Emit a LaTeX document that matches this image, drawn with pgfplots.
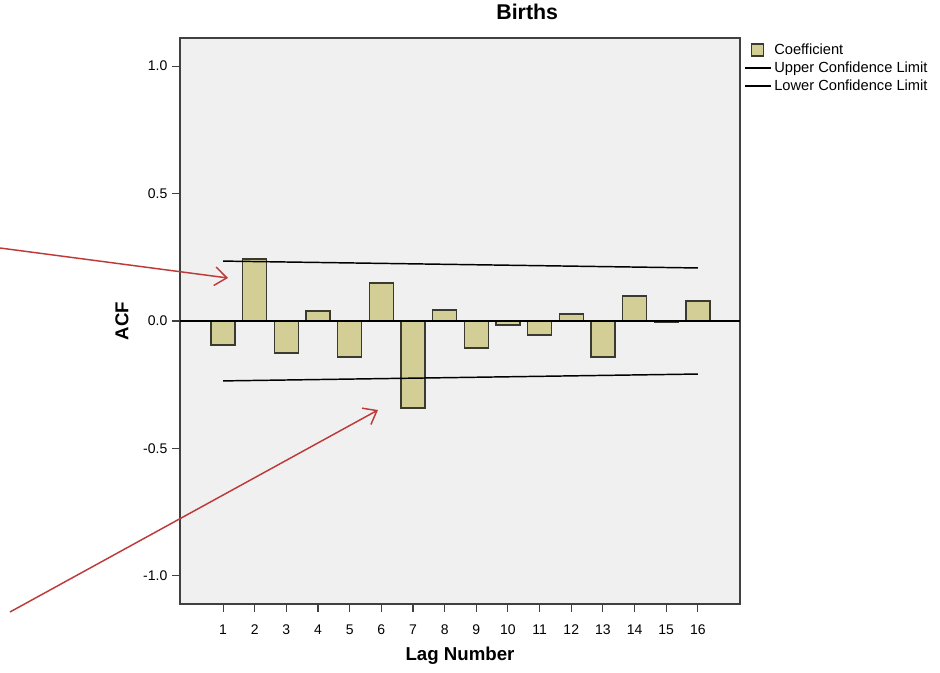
\documentclass[border=0pt]{standalone}
\usepackage{fontspec}
\setmainfont{Liberation Sans}
\usepackage{pgfplots}
\pgfplotsset{compat=1.18}
\usetikzlibrary{arrows.meta}
\definecolor{panel}{HTML}{F0F0F0}
\definecolor{barfill}{HTML}{D3CE96}
\definecolor{bardraw}{HTML}{3A3A30}
\definecolor{arrowred}{HTML}{BE3A3A}

% ACF coefficients by lag
\pgfplotstableread{
lag acf
1  -0.094
2   0.243
3  -0.125
4   0.039
5  -0.141
6   0.149
7  -0.341
8   0.043
9  -0.106
10 -0.016
11 -0.055
12  0.027
13 -0.141
14  0.098
15 -0.004
16  0.078
}\acftable

\begin{document}
\begin{tikzpicture}
\useasboundingbox (-135pt,-51pt) rectangle (570pt,453pt);
\begin{axis}[
  at={(0,0)}, anchor=south west,
  scale only axis,
  width=420pt, height=424.5pt,
  xmin=-0.36, xmax=17.33,
  ymin=-1.11, ymax=1.11,
  xtick={1,...,16},
  ytick={-1,-0.5,0,0.5,1},
  xtick pos=lower, ytick pos=left,
  tick align=outside,
  major tick length=6pt,
  tick style={black!75, line width=0.8pt},
  axis line style={black!75, line width=1pt},
  axis background/.style={fill=panel},
  tick label style={font=\fontsize{10.5}{12}\selectfont},
  yticklabel style={/pgf/number format/.cd, fixed, fixed zerofill, precision=1, assume math mode=true},
  xticklabel style={/pgf/number format/assume math mode=true, yshift=-6pt},
  title={Births},
  title style={at={(0.62,1)}, anchor=center, yshift=13.5pt, font=\fontsize{16}{18}\selectfont\bfseries},
  xlabel={Lag Number},
  xlabel style={at={(0.5,0)}, anchor=center, yshift=-39pt, font=\fontsize{14}{16}\selectfont\bfseries},
  ylabel={ACF},
  ylabel style={at={(0,0.5)}, anchor=center, yshift=43.5pt, font=\fontsize{14}{16}\selectfont\bfseries},
  legend style={at={(1,1)}, anchor=north west, xshift=1pt, draw=none, fill=none,
    font=\fontsize{11}{13}\selectfont, row sep=0pt, inner sep=2pt},
  legend cell align=left,
  clip=false,
]
\addplot[ybar, bar width=0.76, fill=barfill, draw=bardraw, line width=1pt,
  legend image code/.code={\draw[fill=barfill, draw=bardraw, line width=1pt] (5pt,-4.5pt) rectangle (14pt,4.5pt);}]
  table[x=lag, y=acf] {\acftable};
\addlegendentry{Coefficient}
\addplot[black, line width=1.1pt, sharp plot, no marks,
  legend image code/.code={\draw[black, line width=1pt] (0pt,0pt) -- (19.5pt,0pt);}]
  coordinates {(1,0.235) (16,0.208)};
\addlegendentry{Upper Confidence Limit}
\addplot[black, line width=1.1pt, sharp plot, no marks,
  legend image code/.code={\draw[black, line width=1pt] (0pt,0pt) -- (19.5pt,0pt);}]
  coordinates {(1,-0.235) (16,-0.208)};
\addlegendentry{Lower Confidence Limit}
\draw[black, line width=1pt] ({rel axis cs:0,0}|-{axis cs:0,0}) -- ({rel axis cs:1,0}|-{axis cs:0,0});
\end{axis}
% annotation arrows
\draw[arrowred, line width=1.1pt, -{Straight Barb[length=9pt, width=14pt]}] (-135pt,267pt) -- (36pt,244.5pt);
\draw[arrowred, line width=1.1pt, -{Straight Barb[length=9pt, width=14pt]}] (-127.5pt,-6pt) -- (148.5pt,145.5pt);
\end{tikzpicture}
\end{document}
